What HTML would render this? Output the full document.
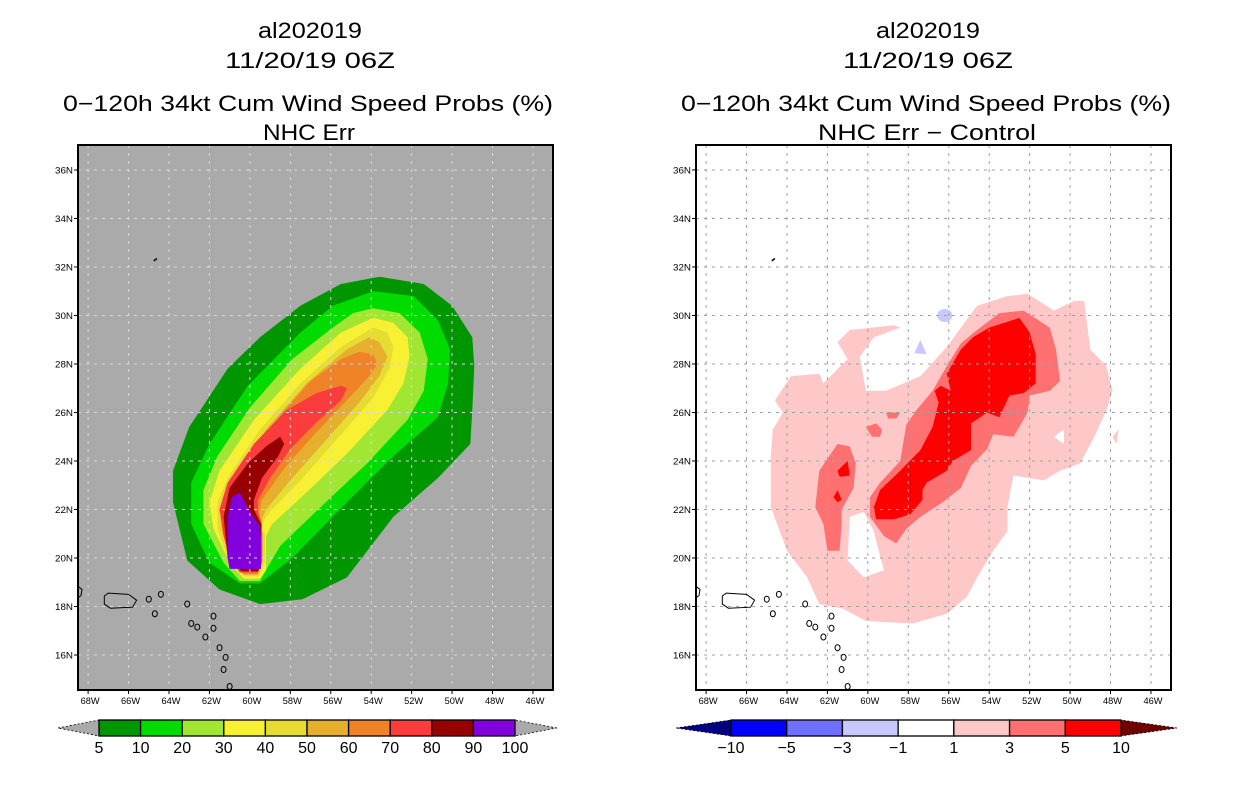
<!DOCTYPE html>
<html><head><meta charset="utf-8"><style>
html,body{margin:0;padding:0;background:#fff;}
svg{display:block;font-family:"Liberation Sans",sans-serif;}
</style></head><body>
<svg id="root" width="1236" height="800" viewBox="0 0 1236 800">
<defs>
<clipPath id="clipL"><rect x="78" y="145" width="475" height="545"/></clipPath>
<clipPath id="clipR"><rect x="696" y="145" width="475" height="545"/></clipPath>
</defs>
<g font-size="22" text-anchor="middle" fill="#000">
<text x="310" y="38" textLength="104" lengthAdjust="spacingAndGlyphs">al202019</text>
<text x="310" y="68" textLength="170" lengthAdjust="spacingAndGlyphs">11/20/19 06Z</text>
<text x="308" y="111" textLength="490" lengthAdjust="spacingAndGlyphs">0−120h 34kt Cum Wind Speed Probs (%)</text>
<text x="309" y="140" textLength="92" lengthAdjust="spacingAndGlyphs">NHC Err</text>
</g>
<g font-size="22" text-anchor="middle" fill="#000">
<text x="928" y="38" textLength="104" lengthAdjust="spacingAndGlyphs">al202019</text>
<text x="928" y="68" textLength="170" lengthAdjust="spacingAndGlyphs">11/20/19 06Z</text>
<text x="926" y="111" textLength="490" lengthAdjust="spacingAndGlyphs">0−120h 34kt Cum Wind Speed Probs (%)</text>
<text x="927" y="140" textLength="218" lengthAdjust="spacingAndGlyphs">NHC Err − Control</text>
</g>
<rect x="78" y="145" width="475" height="545" fill="#aaaaaa"/>
<rect x="696" y="145" width="475" height="545" fill="#ffffff"/>
<g id="mapL" clip-path="url(#clipL)"></g>
<g id="mapR" clip-path="url(#clipR)"></g>
<rect x="78" y="145" width="475" height="545" fill="none" stroke="#000" stroke-width="2"/>
<rect x="696" y="145" width="475" height="545" fill="none" stroke="#000" stroke-width="2"/>
<g id="axes"></g>
<g id="cbars"></g>
</svg>
<script>
// ---- data (longitudes in degrees West, latitudes in degrees North) ----
const lonTicks = [68,66,64,62,60,58,56,54,52,50,48,46];
const latTicks = [16,18,20,22,24,26,28,30,32,34,36];

const probLevels = [5,10,20,30,40,50,60,70,80,90,100];
const probColors = ["#009600","#00dc00","#a0e632","#f8f032","#e6dc32","#e6af2d","#f08228","#fa3c3c","#960000","#8200dc"];

const diffLevels = [-10,-5,-3,-1,1,3,5,10];
const diffColors = ["#0000ff","#7070ff","#c8c8ff","#ffffff","#ffc8c8","#ff7070","#ff0000"];

const p5 = [[53.6,31.6],[51.4,31.3],[50.0,30.4],[49.0,29.1],[48.9,27.9],[49.0,26.1],[49.1,24.7],[50.7,23.3],[52.9,21.7],[55.2,19.2],[57.4,18.3],[59.5,18.1],[61.5,18.7],[63.1,19.9],[63.8,22.3],[63.8,23.6],[63.0,25.4],[61.1,27.8],[59.5,29.1],[57.5,30.4],[55.5,31.3]];
const p10 = [[53.9,31.0],[51.9,30.8],[50.7,29.8],[50.1,28.6],[50.2,27.2],[50.7,25.8],[52.9,24.2],[55.2,22.3],[57.9,20.0],[59.5,18.95],[60.5,18.95],[62.0,19.8],[62.9,21.4],[62.9,23.1],[62.0,24.7],[60.1,27.1],[57.5,29.3],[55.9,30.4]];
const p20 = [[53.9,30.3],[52.6,30.1],[51.6,29.3],[51.2,28.2],[51.4,26.9],[52.2,25.7],[54.2,23.9],[56.5,22.1],[58.5,20.5],[59.2,19.5],[59.5,19.05],[60.5,19.05],[61.3,19.8],[62.3,21.4],[62.3,22.8],[61.6,24.2],[60.0,26.2],[57.9,28.2],[55.9,29.5],[54.9,30.1]];
const p30 = [[53.9,29.9],[52.9,29.7],[52.2,29.1],[52.1,28.3],[52.4,27.2],[53.2,26.1],[55.2,24.3],[57.2,22.7],[58.9,21.4],[59.2,20.9],[59.2,19.5],[59.5,19.15],[60.3,19.15],[61.0,19.8],[61.8,21.2],[62.0,22.3],[61.5,23.6],[59.8,25.7],[57.5,27.8],[55.5,29.3]];
const p40 = [[53.9,29.5],[53.2,29.3],[52.9,28.7],[53.1,27.8],[53.9,26.6],[55.7,24.9],[57.5,23.2],[59.0,21.9],[59.5,21.3],[59.25,21.0],[59.25,19.8],[59.6,19.25],[60.3,19.25],[61.1,20.0],[61.6,21.2],[61.6,22.3],[61.1,23.3],[59.5,25.3],[57.5,27.2],[55.5,28.7]];
const p50 = [[54.1,29.1],[53.6,28.9],[53.2,28.3],[53.6,27.5],[54.6,26.4],[56.2,24.9],[57.9,23.3],[59.2,22.0],[59.5,21.4],[59.35,21.0],[59.35,19.9],[59.6,19.3],[60.3,19.3],[61.0,20.1],[61.4,21.2],[61.4,22.3],[60.8,23.3],[59.2,25.3],[57.2,27.2],[55.2,28.6]];
const p60 = [[54.6,28.5],[53.9,28.4],[53.7,28.0],[54.1,27.5],[55.2,26.5],[56.7,25.2],[58.2,23.8],[59.4,22.4],[59.6,21.7],[59.4,21.3],[59.4,20.0],[59.65,19.35],[60.3,19.35],[60.9,20.2],[61.3,21.2],[61.3,22.3],[60.6,23.5],[59.0,25.4],[57.0,27.3],[55.5,28.2]];
const p70 = [[55.5,27.1],[55.2,27.0],[55.5,26.5],[56.7,25.6],[58.0,24.5],[59.0,23.3],[59.6,22.4],[59.6,21.9],[59.4,21.4],[59.4,21.0],[59.4,19.8],[59.6,19.4],[60.5,19.4],[61.0,20.0],[61.3,20.9],[61.5,22.0],[61.1,23.1],[59.8,24.7],[58.2,26.1],[56.7,26.8]];
const p80 = [[58.5,25.0],[58.3,24.7],[58.6,24.2],[59.4,23.3],[59.8,22.4],[59.8,22.0],[59.45,21.4],[59.45,21.0],[59.45,19.8],[59.6,19.45],[60.4,19.45],[61.1,20.0],[61.2,20.9],[61.3,21.7],[61.0,22.9],[60.1,23.9],[59.2,24.6]];
const p90 = [[60.5,22.7],[60.3,22.4],[60.0,21.9],[59.5,21.3],[59.45,20.9],[59.45,19.55],[61.0,19.55],[61.1,20.0],[61.1,21.7],[60.9,22.5]];

const dPink = [[64.6,26.5],[63.8,27.5],[62.4,27.6],[62.2,27.2],[61.0,28.2],[61.5,28.9],[60.9,29.4],[58.7,29.6],[58.4,29.5],[59.7,29.1],[60.4,28.3],[60.1,26.9],[59.1,26.9],[57.4,27.5],[56.1,28.7],[54.6,30.4],[53.1,30.8],[52.1,30.9],[50.8,30.2],[49.8,30.6],[49.3,30.6],[49.0,28.6],[48.2,27.9],[47.9,26.9],[48.2,26.1],[48.8,25.0],[49.5,23.9],[50.5,23.6],[51.3,23.2],[52.8,23.4],[53.1,22.1],[53.1,21.1],[53.8,20.3],[54.6,19.2],[55.1,18.4],[56.1,17.7],[57.8,17.3],[60.1,17.4],[61.2,17.9],[62.4,18.1],[63.0,19.2],[64.0,20.3],[64.8,22.1],[64.8,24.2],[64.7,25.3],[64.2,26.0]];
const dPinkPatch = [[47.9,25.0],[47.6,25.3],[47.7,24.7]];
const dHoleA = [[60.9,21.7],[60.2,21.9],[59.7,21.1],[59.4,20.1],[59.2,19.5],[60.2,19.2],[61.0,19.9]];
const dHoleC = [[50.8,25.0],[50.3,25.3],[50.3,24.7]];
const d3Main = [[54.6,29.4],[53.5,30.1],[52.3,30.2],[51.0,29.5],[50.7,28.6],[50.5,27.3],[51.0,26.9],[52.0,26.7],[52.1,26.0],[52.8,25.0],[53.8,25.1],[54.1,24.5],[54.9,23.8],[55.4,22.9],[56.3,22.3],[57.4,21.7],[58.1,21.2],[58.6,20.6],[59.2,20.9],[59.9,21.7],[59.9,22.5],[59.4,23.1],[58.4,24.0],[58.1,25.5],[57.6,26.1],[56.8,26.9],[56.1,27.9],[55.4,28.85]];
const d5Main = [[54.0,29.5],[52.5,29.9],[52.0,29.3],[51.7,28.4],[51.7,27.2],[52.3,26.8],[53.0,26.7],[53.5,25.8],[54.1,26.0],[54.9,25.55],[54.9,24.45],[55.8,24.0],[56.1,23.6],[57.1,23.1],[57.3,22.8],[57.3,22.4],[57.9,21.8],[58.7,21.6],[59.6,21.6],[59.7,22.1],[59.4,22.8],[58.4,23.6],[57.4,24.45],[56.8,25.4],[56.5,26.4],[56.7,26.9],[56.4,27.1],[55.9,26.9],[56.1,27.6],[55.4,28.6],[54.8,29.1]];
const d3Left = [[61.5,24.7],[60.9,24.6],[60.6,23.9],[60.7,22.9],[61.3,22.0],[61.3,21.4],[61.4,20.3],[62.0,20.3],[62.2,21.4],[62.6,22.1],[62.4,23.6]];
const d5LeftA = [[61.5,23.6],[61.0,24.0],[60.9,23.4],[61.4,23.35]];
const d5LeftB = [[61.7,22.5],[61.5,22.8],[61.3,22.4],[61.5,22.3]];
const d3Small1 = [[60.1,25.4],[59.6,25.55],[59.3,25.3],[59.4,25.0],[59.8,25.0]];
const d3Small2 = [[59.1,26.0],[58.4,26.0],[58.6,25.75],[59.0,25.75]];
const dBlueTri = [[57.4,29.0],[57.1,28.4],[57.7,28.45]];
const dBlueCircle = [56.2,30.0];

const puertoRico = [[67.2,18.43],[67.0,18.55],[66.0,18.5],[65.6,18.26],[65.8,17.97],[66.9,17.93],[67.2,18.1]];
const hispaniola = [[68.6,18.9],[68.3,18.7],[68.35,18.45],[68.6,18.3]];
const bermuda = [[64.75,32.25],[64.6,32.35]];
const islands = [[61.8,17.6],[61.8,17.1],[62.2,16.74],[61.5,16.3],[61.2,15.9],[61.3,15.4],[61.0,14.7],[62.9,17.3],[62.6,17.15],[63.1,18.1],[64.7,17.7],[64.4,18.5],[65.0,18.3]];

// ---- projection ----
const X0 = {L:78, R:696};
const LON_LEFT = 68.5, PX_PER_LON = 20.22;
const LAT_TOP = 37.03, PX_PER_LAT = 24.25, Y0 = 145;
function px(lonW, p){ return X0[p] + (LON_LEFT - lonW) * PX_PER_LON; }
function py(lat){ return Y0 + (LAT_TOP - lat) * PX_PER_LAT; }
const NS = "http://www.w3.org/2000/svg";
function mk(tag, attrs, parent){
  const e = document.createElementNS(NS, tag);
  for (const k in attrs) e.setAttribute(k, attrs[k]);
  parent.appendChild(e); return e;
}
function pts(arr, p){ return arr.map(d => px(d[0],p).toFixed(1)+","+py(d[1]).toFixed(1)).join(" "); }

const mapL = document.getElementById("mapL");
const mapR = document.getElementById("mapR");

const leftPolys = [p5,p10,p20,p30,p40,p50,p60,p70,p80,p90];
leftPolys.forEach((poly, i) => {
  const e = mk("polygon", {points: pts(poly,"L"), fill: probColors[i]}, mapL);
  
  
});

function rpoly(arr, color, name){
  const e = mk("polygon", {points: pts(arr,"R"), fill: color}, mapR);
  
  
}
rpoly(dPink, diffColors[4], "diff-contour-1-3");
rpoly(dPinkPatch, diffColors[4], "diff-contour-1-3-east-patch");
rpoly(dHoleA, diffColors[3], "diff-neutral-hole-south");
rpoly(dHoleC, diffColors[3], "diff-neutral-hole-east");
rpoly(d3Main, diffColors[5], "diff-contour-3-5");
rpoly(d3Left, diffColors[5], "diff-contour-3-5-west");
rpoly(d3Small1, diffColors[5], "diff-contour-3-5-patch-a");
rpoly(d3Small2, diffColors[5], "diff-contour-3-5-patch-b");
rpoly(d5Main, diffColors[6], "diff-contour-5-10");
rpoly(d5LeftA, diffColors[6], "diff-contour-5-10-west-a");
rpoly(d5LeftB, diffColors[6], "diff-contour-5-10-west-b");
rpoly(dBlueTri, diffColors[2], "diff-contour-neg1-neg3-triangle");
{
  const e = mk("ellipse", {cx: px(dBlueCircle[0],"R"), cy: py(dBlueCircle[1]), rx: 7.5, ry: 6.5, fill: diffColors[2]}, mapR);
  
  
}

["L","R"].forEach(p => {
  const g = p === "L" ? mapL : mapR;
  const gc = p === "L" ? "#d8d8d8" : "#a0a0a0";
  lonTicks.forEach(lon => {
    const e = mk("line", {x1: px(lon,p), x2: px(lon,p), y1: 145, y2: 690, stroke: gc, "stroke-width": 1, "stroke-dasharray": "3,5"}, g);
    
    
  });
  latTicks.forEach(lat => {
    const e = mk("line", {x1: X0[p], x2: X0[p]+475, y1: py(lat), y2: py(lat), stroke: gc, "stroke-width": 1, "stroke-dasharray": "3,5"}, g);
    
    
  });
  const pr = mk("polygon", {points: pts(puertoRico,p), fill: "none", stroke: "#000", "stroke-width": 1}, g);
  
  
  const hs = mk("polyline", {points: pts(hispaniola,p), fill: "none", stroke: "#000", "stroke-width": 1}, g);
  
  
  const bm = mk("polyline", {points: pts(bermuda,p), fill: "none", stroke: "#000", "stroke-width": 1.5}, g);
  
  
  islands.forEach(d => {
    const e = mk("ellipse", {cx: px(d[0],p), cy: py(d[1]), rx: 2.5, ry: 3, fill: "none", stroke: "#000", "stroke-width": 1}, g);
    
    
  });
});

const axes = document.getElementById("axes");
["L","R"].forEach(p => {
  latTicks.forEach(lat => {
    const y = py(lat);
    const t = mk("line", {x1: X0[p]-4, x2: X0[p], y1: y, y2: y, stroke: "#000"}, axes);
    
    
    const l = mk("text", {x: X0[p]-5, y: y+3.5, "font-size": 9.5, "text-anchor": "end", textLength: 18, lengthAdjust: "spacingAndGlyphs"}, axes);
    l.textContent = lat + "N";
    
    
  });
  lonTicks.forEach(lon => {
    const x = px(lon,p);
    const t = mk("line", {x1: x, x2: x, y1: 690, y2: 694, stroke: "#000"}, axes);
    
    
    const l = mk("text", {x: x+2, y: 704, "font-size": 9.5, "text-anchor": "middle", textLength: 19, lengthAdjust: "spacingAndGlyphs"}, axes);
    l.textContent = lon + "W";
    
    
  });
});

const cb = document.getElementById("cbars");
function colorbar(x0, x1, tip0, tip1, colors, levels, triL, triR, prefix){
  const n = colors.length, w = (x1-x0)/n, y0 = 720, y1 = 736, ym = 728;
  const a = mk("polygon", {points: `${tip0},${ym} ${x0},${y0} ${x0},${y1}`, fill: triL, stroke: "#000", "stroke-width": 0.8, "stroke-dasharray": "2,2"}, cb);
  
  
  const b = mk("polygon", {points: `${tip1},${ym} ${x1},${y0} ${x1},${y1}`, fill: triR, stroke: "#000", "stroke-width": 0.8, "stroke-dasharray": "2,2"}, cb);
  
  
  colors.forEach((c,i) => {
    const r = mk("rect", {x: x0+i*w, y: y0, width: w, height: y1-y0, fill: c, stroke: "#000", "stroke-width": 1.3}, cb);
    
    
  });
  levels.forEach((v,i) => {
    const t = mk("text", {x: x0+i*w, y: 753, "font-size": 16, "text-anchor": "middle"}, cb);
    t.textContent = v < 0 ? "−" + Math.abs(v) : String(v);
    
    
  });
}
colorbar(99, 515, 58, 557, probColors, probLevels, "#aaaaaa", "#aaaaaa", "prob-colorbar");
colorbar(731, 1121, 676, 1177, diffColors, diffLevels, "#000080", "#6e0000", "diff-colorbar");
</script>
</body></html>
